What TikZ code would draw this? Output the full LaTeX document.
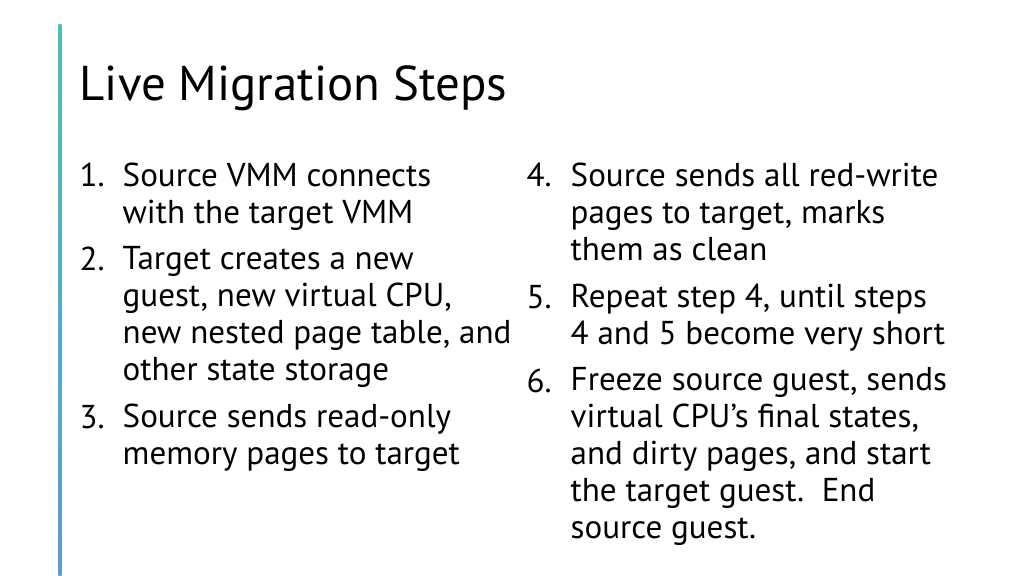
\documentclass[tikz,border=0pt]{standalone}
\usepackage{fontspec}
\setmainfont{PT Sans}
\usetikzlibrary{positioning}
\definecolor{barTop}{HTML}{4BBFB6}
\definecolor{barBot}{HTML}{5B9BD5}
\tikzset{
  num/.style={anchor=base west, inner sep=0pt, font=\fontsize{9.4}{10.5}\selectfont},
  item/.style={anchor=north west, inner sep=0pt, align=left, font=\fontsize{9.4}{10.5}\selectfont},
}
\begin{document}
\begin{tikzpicture}[x=0.01cm,y=-0.01cm]
\useasboundingbox (0,0) rectangle (1024,576);
\shade[top color=barTop, bottom color=barBot] (58.5,25) rectangle (61.5,576);
\node[anchor=base west, inner sep=0pt, font=\fontsize{13.9}{16}\selectfont] (title) at (79,101) {Live Migration Steps};
% left column
\node[num] (n1) at (79,187) {1.};
\node[item] (t1) at (122,162) {Source VMM connects\\with the target VMM};
\node[num] (n2) at (79,271) {2.};
\node[item] (t2) at (122,246) {Target creates a new\\guest, new virtual CPU,\\new nested page table, and\\other state storage};
\node[num] (n3) at (79,428) {3.};
\node[item] (t3) at (122,403) {Source sends read-only\\memory pages to target};
% right column
\node[num] (n4) at (526,187) {4.};
\node[item] (t4) at (570,162) {Source sends all red-write\\pages to target, marks\\them as clean};
\node[num] (n5) at (526,308) {5.};
\node[item] (t5) at (570,283) {Repeat step 4, until steps\\4 and 5 become very short};
\node[num] (n6) at (526,392) {6.};
\node[item] (t6) at (570,367) {Freeze source guest, sends\\virtual CPU’s final states,\\and dirty pages, and start\\the target guest.\ \ End\\source guest.};
\end{tikzpicture}
\end{document}
